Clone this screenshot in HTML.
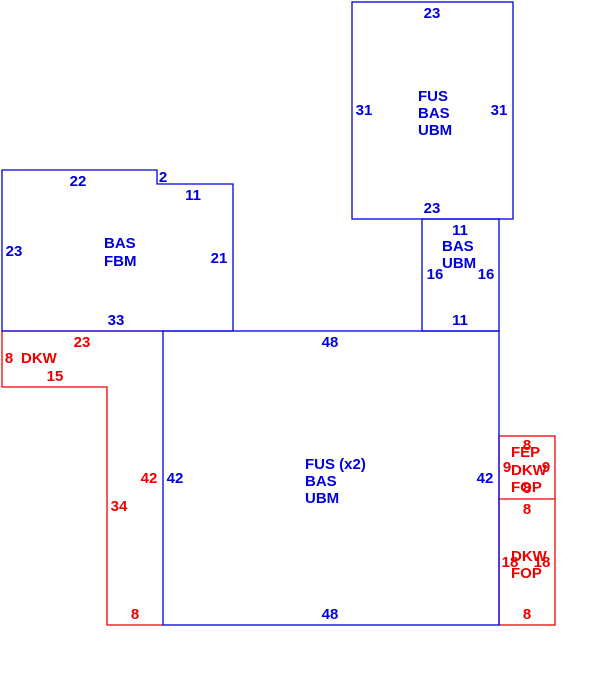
<!DOCTYPE html>
<html><head><style>
html,body{margin:0;padding:0;background:#fff;}
svg{display:block;}
text{font-family:"Liberation Sans",Arial,sans-serif;font-weight:bold;font-size:15px;text-anchor:middle;}
text.s{text-anchor:start;}
.b{fill:#0000dd;}
.r{fill:#ee0000;}
</style></head><body>
<svg width="603" height="673" viewBox="0 0 603 673" xmlns="http://www.w3.org/2000/svg">
<g fill="none" stroke-width="1.3">
<polyline stroke="#ee0000" points="163,331 2,331 2,387 107,387 107,625 163,625"/>
<rect stroke="#ee0000" x="499" y="436" width="56" height="189"/>
<line stroke="#ee0000" x1="499" y1="499" x2="555" y2="499"/>
<polygon stroke="#0000dd" points="2,170 157,170 157,184 233,184 233,331 2,331"/>
<rect stroke="#0000dd" x="352" y="2" width="161" height="217"/>
<rect stroke="#0000dd" x="422" y="219" width="77" height="112"/>
<rect stroke="#0000dd" x="163" y="331" width="336" height="294"/>
</g>
<g class="b">
<text x="432" y="18">23</text>
<text x="364" y="115">31</text>
<text x="499" y="115">31</text>
<text class="s" x="418" y="101">FUS</text>
<text class="s" x="418" y="118">BAS</text>
<text class="s" x="418" y="135">UBM</text>
<text x="432" y="213">23</text>
<text x="460" y="235">11</text>
<text class="s" x="442" y="251">BAS</text>
<text class="s" x="442" y="268">UBM</text>
<text x="435" y="279">16</text>
<text x="486" y="279">16</text>
<text x="460" y="325">11</text>
<text x="78" y="186">22</text>
<text x="163" y="182">2</text>
<text x="193" y="200">11</text>
<text x="14" y="256">23</text>
<text class="s" x="104" y="248">BAS</text>
<text class="s" x="104" y="266">FBM</text>
<text x="219" y="263">21</text>
<text x="116" y="325">33</text>
<text x="330" y="347">48</text>
<text class="s" x="305" y="469">FUS (x2)</text>
<text class="s" x="305" y="486">BAS</text>
<text class="s" x="305" y="503">UBM</text>
<text x="175" y="483">42</text>
<text x="485" y="483">42</text>
<text x="330" y="619">48</text>
</g>
<g class="r">
<text x="82" y="347">23</text>
<text x="9" y="363">8</text>
<text class="s" x="21" y="363">DKW</text>
<text x="55" y="381">15</text>
<text x="149" y="483">42</text>
<text x="119" y="511">34</text>
<text x="135" y="619">8</text>
<text x="527" y="450">8</text>
<text class="s" x="511" y="457">FEP</text>
<text x="507" y="472">9</text>
<text class="s" x="511" y="475">DKW</text>
<text x="546" y="472">9</text>
<text class="s" x="511" y="492">FOP</text>
<text x="527" y="493">8</text>
<text x="527" y="514">8</text>
<text class="s" x="511" y="561">DKW</text>
<text x="510" y="567">18</text>
<text x="542" y="567">18</text>
<text class="s" x="511" y="578">FOP</text>
<text x="527" y="619">8</text>
</g>
</svg>
</body></html>
